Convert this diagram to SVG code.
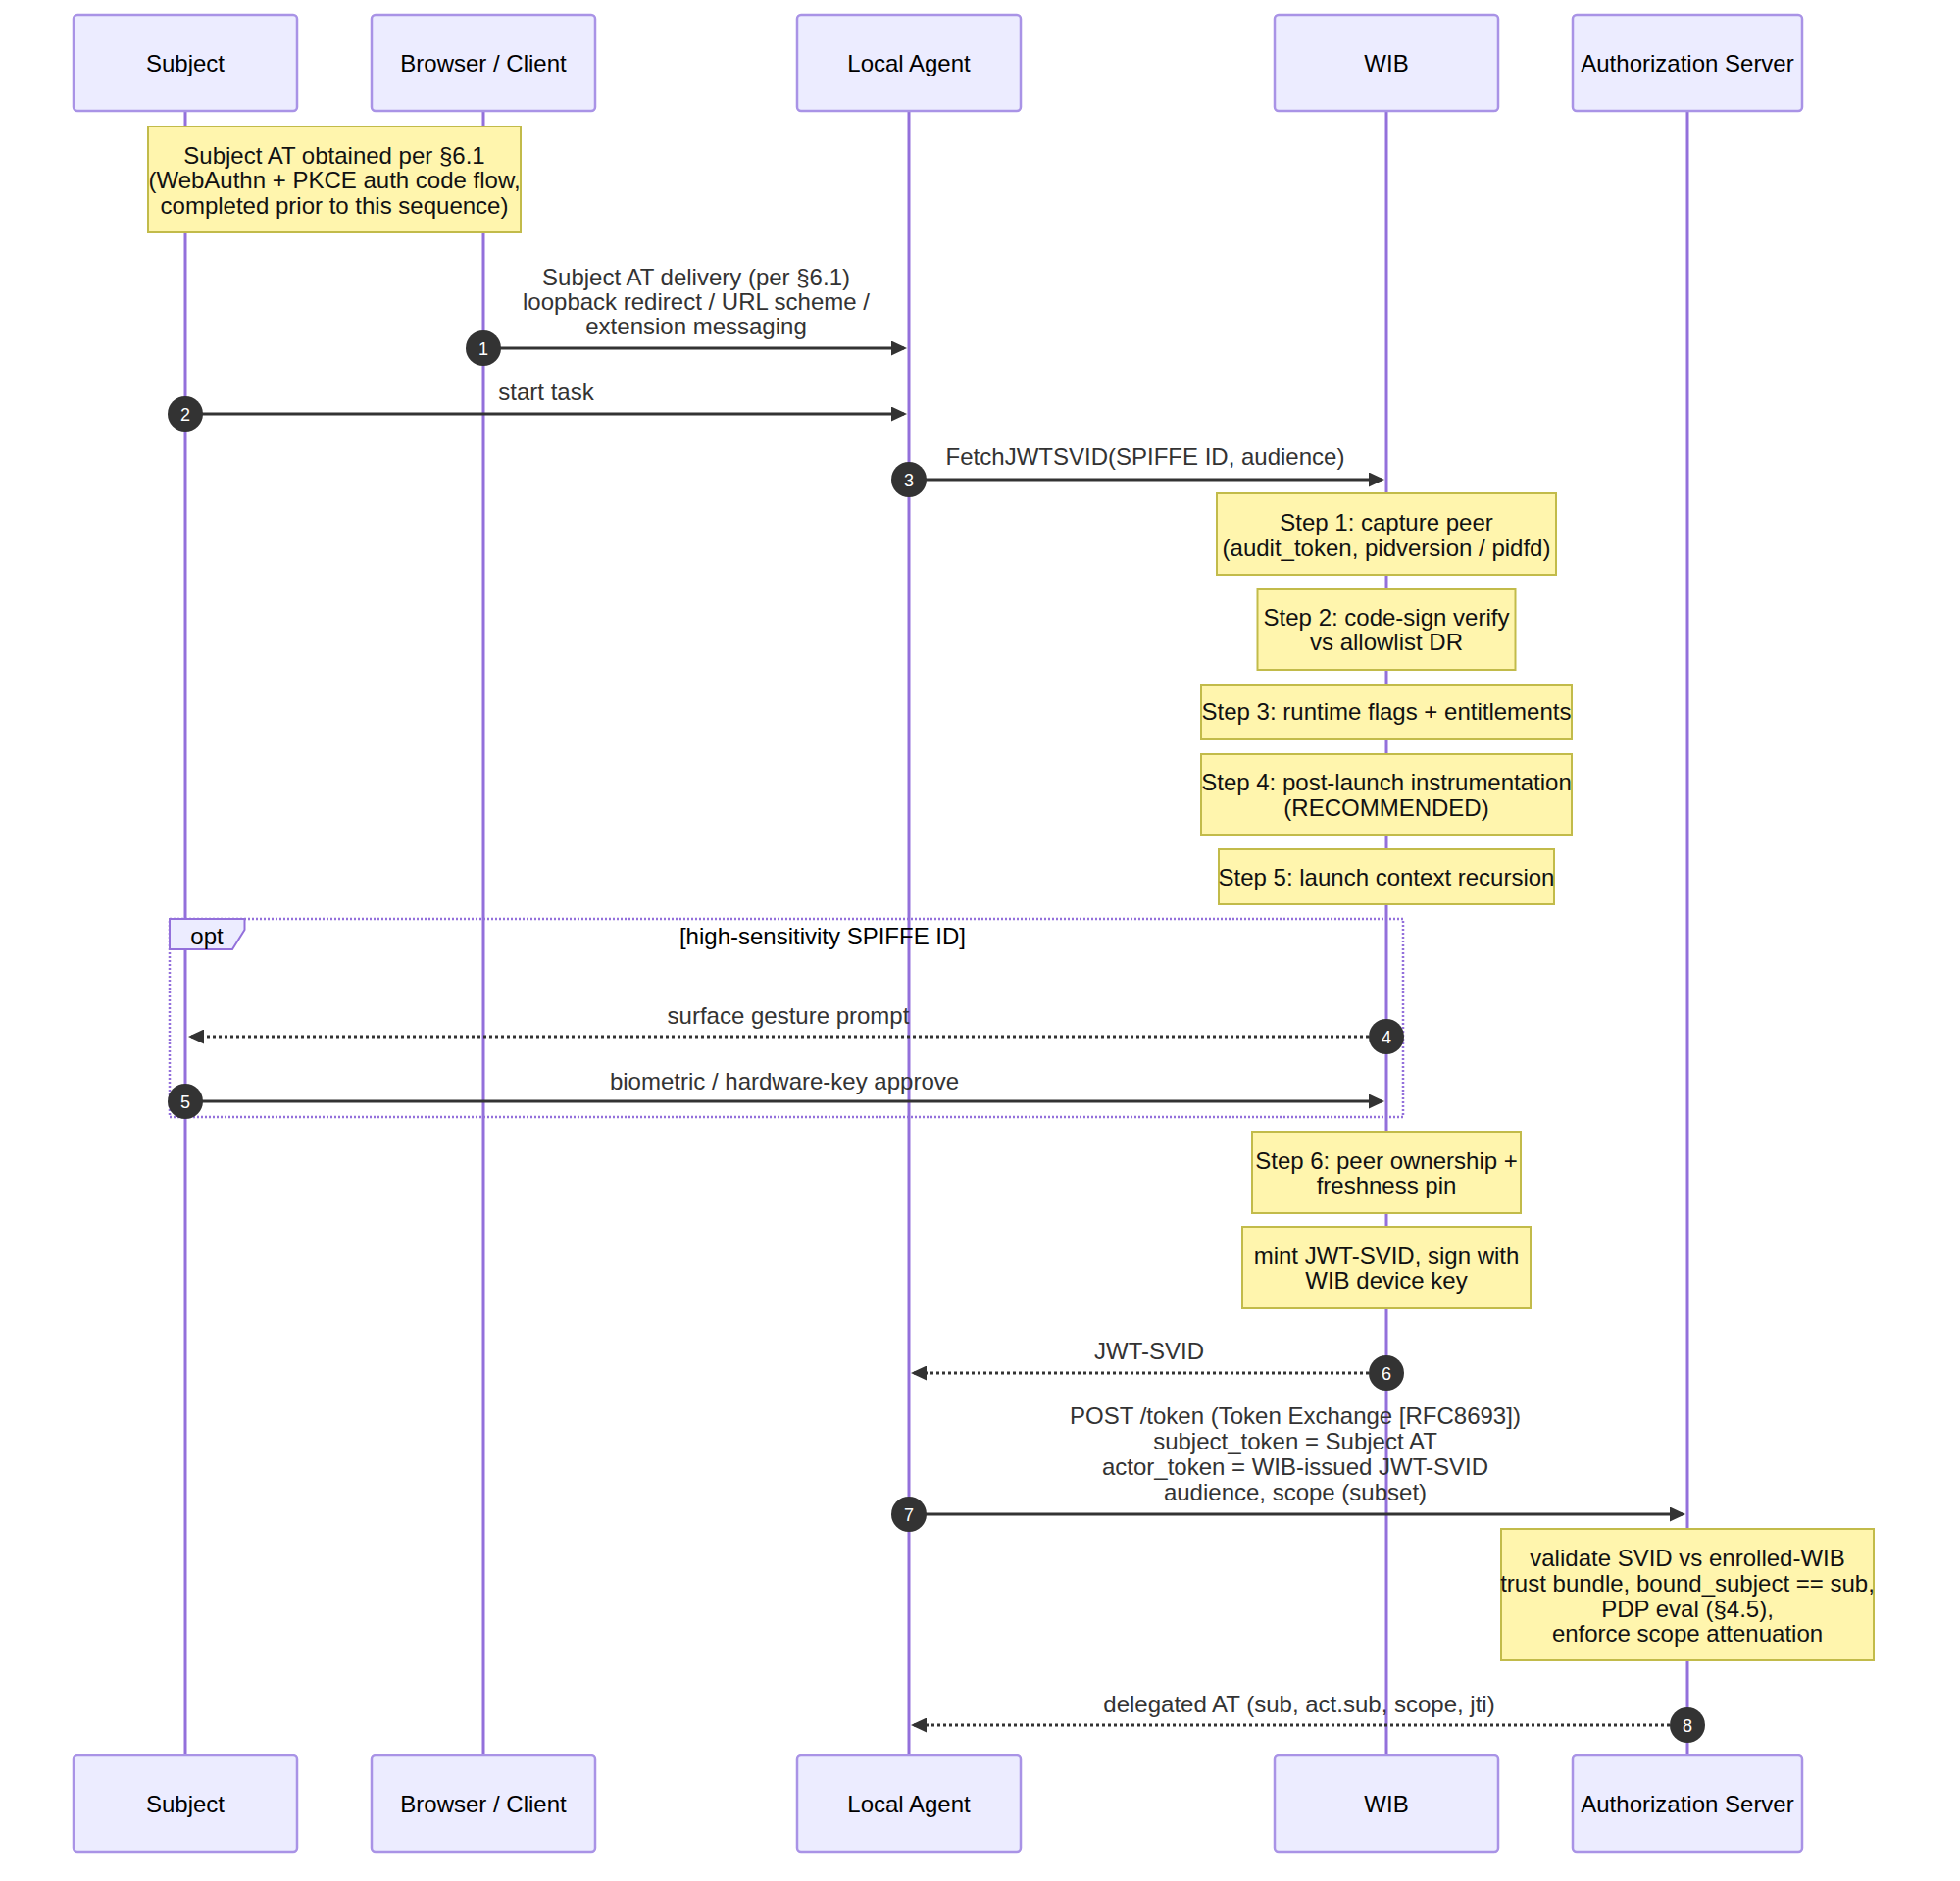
<svg xmlns="http://www.w3.org/2000/svg" width="1999" height="1918" viewBox="0 0 1999 1918">
<defs>
<style>
text{font-family:"Liberation Sans",Arial,Helvetica,sans-serif;font-size:24px;text-anchor:middle}
.actor rect{fill:#ECECFF;stroke:#a993e6;stroke-width:2.5}
.actor text{fill:#000}
.life{stroke:#9370DB;stroke-width:3}
.note rect{fill:#fff5ad;stroke:#c2bb4a;stroke-width:2}
.note text{fill:#111}
.msg{stroke:#333;stroke-width:3;fill:none}
.dot{stroke-dasharray:3 3}
.mlabel{fill:#333}
.seq circle{fill:#333}
.seq text{fill:#fff;font-size:18px}
.loop{fill:none;stroke:#9370DB;stroke-width:2.5;stroke-dasharray:2 2}
</style>
<marker id="arrow" markerUnits="userSpaceOnUse" viewBox="0 0 16 15" markerWidth="16" markerHeight="15" refX="13" refY="7.5" orient="auto">
<path d="M0,0 L16,7.5 L0,15 z" fill="#333"/>
</marker>
</defs>
<rect width="1999" height="1918" fill="#fff"/>

<g id="lifelines">
<line class="life" x1="189" y1="113" x2="189" y2="1790"/>
<line class="life" x1="493" y1="113" x2="493" y2="1790"/>
<line class="life" x1="927" y1="113" x2="927" y2="1790"/>
<line class="life" x1="1414" y1="113" x2="1414" y2="1790"/>
<line class="life" x1="1721" y1="113" x2="1721" y2="1790"/>
</g>

<g id="actor-subject" class="actor">
<rect x="75" y="15" width="228" height="98" rx="4"/><text x="189" y="72.5">Subject</text>
<rect x="75" y="1790" width="228" height="98" rx="4"/><text x="189" y="1847.5">Subject</text>
</g>
<g id="actor-browser" class="actor">
<rect x="379" y="15" width="228" height="98" rx="4"/><text x="493" y="72.5">Browser / Client</text>
<rect x="379" y="1790" width="228" height="98" rx="4"/><text x="493" y="1847.5">Browser / Client</text>
</g>
<g id="actor-agent" class="actor">
<rect x="813" y="15" width="228" height="98" rx="4"/><text x="927" y="72.5">Local Agent</text>
<rect x="813" y="1790" width="228" height="98" rx="4"/><text x="927" y="1847.5">Local Agent</text>
</g>
<g id="actor-wib" class="actor">
<rect x="1300" y="15" width="228" height="98" rx="4"/><text x="1414" y="72.5">WIB</text>
<rect x="1300" y="1790" width="228" height="98" rx="4"/><text x="1414" y="1847.5">WIB</text>
</g>
<g id="actor-as" class="actor">
<rect x="1604" y="15" width="234" height="98" rx="4"/><text x="1721" y="72.5">Authorization Server</text>
<rect x="1604" y="1790" width="234" height="98" rx="4"/><text x="1721" y="1847.5">Authorization Server</text>
</g>

<g id="note-subject-at" class="note">
<rect x="151" y="129" width="380" height="108"/>
<text x="341" y="166.5">Subject AT obtained per §6.1</text>
<text x="341" y="192">(WebAuthn + PKCE auth code flow,</text>
<text x="341" y="217.5">completed prior to this sequence)</text>
</g>
<g id="note-step1" class="note">
<rect x="1241" y="503" width="346" height="83"/>
<text x="1414" y="541">Step 1: capture peer</text>
<text x="1414" y="567">(audit_token, pidversion / pidfd)</text>
</g>
<g id="note-step2" class="note">
<rect x="1282.5" y="601" width="263" height="82"/>
<text x="1414" y="637.5">Step 2: code-sign verify</text>
<text x="1414" y="663">vs allowlist DR</text>
</g>
<g id="note-step3" class="note">
<rect x="1225" y="698" width="378" height="56"/>
<text x="1414" y="734">Step 3: runtime flags + entitlements</text>
</g>
<g id="note-step4" class="note">
<rect x="1225" y="769" width="378" height="82"/>
<text x="1414" y="806">Step 4: post-launch instrumentation</text>
<text x="1414" y="831.5">(RECOMMENDED)</text>
</g>
<g id="note-step5" class="note">
<rect x="1243" y="866" width="342" height="56"/>
<text x="1414" y="902.5">Step 5: launch context recursion</text>
</g>
<g id="note-step6" class="note">
<rect x="1277" y="1154" width="274" height="83"/>
<text x="1414" y="1191.5">Step 6: peer ownership +</text>
<text x="1414" y="1217">freshness pin</text>
</g>
<g id="note-mint" class="note">
<rect x="1267" y="1251" width="294" height="83"/>
<text x="1414" y="1289">mint JWT-SVID, sign with</text>
<text x="1414" y="1314">WIB device key</text>
</g>
<g id="note-as" class="note">
<rect x="1531" y="1559" width="380" height="134"/>
<text x="1721" y="1597">validate SVID vs enrolled-WIB</text>
<text x="1721" y="1622.5">trust bundle, bound_subject == sub,</text>
<text x="1721" y="1648.5">PDP eval (§4.5),</text>
<text x="1721" y="1674">enforce scope attenuation</text>
</g>

<g id="opt-block">
<rect class="loop" x="173" y="937" width="1258" height="202"/>
<polygon points="173,937 249.5,937 249.5,948 237,968 173,968" fill="#ECECFF" stroke="#9370DB" stroke-width="2"/>
<text x="211" y="962.5" fill="#000">opt</text>
<text x="839" y="963" fill="#000">[high-sensitivity SPIFFE ID]</text>
</g>

<g id="connectors">
<line class="msg" x1="493" y1="355" x2="922" y2="355" marker-end="url(#arrow)"/>
<text class="mlabel" x="710" y="291">Subject AT delivery (per §6.1)</text>
<text class="mlabel" x="710" y="316">loopback redirect / URL scheme /</text>
<text class="mlabel" x="710" y="341">extension messaging</text>

<line class="msg" x1="189" y1="422" x2="922" y2="422" marker-end="url(#arrow)"/>
<text class="mlabel" x="557" y="407.5">start task</text>

<line class="msg" x1="927" y1="489" x2="1409" y2="489" marker-end="url(#arrow)"/>
<text class="mlabel" x="1168" y="474">FetchJWTSVID(SPIFFE ID, audience)</text>

<line class="msg dot" x1="1414" y1="1057" x2="195" y2="1057" marker-end="url(#arrow)"/>
<text class="mlabel" x="804" y="1043.5">surface gesture prompt</text>

<line class="msg" x1="189" y1="1123" x2="1409" y2="1123" marker-end="url(#arrow)"/>
<text class="mlabel" x="800" y="1110.5">biometric / hardware-key approve</text>

<line class="msg dot" x1="1414" y1="1400" x2="932" y2="1400" marker-end="url(#arrow)"/>
<text class="mlabel" x="1172" y="1385.5">JWT-SVID</text>

<line class="msg" x1="927" y1="1544" x2="1716" y2="1544" marker-end="url(#arrow)"/>
<text class="mlabel" x="1321" y="1452">POST /token (Token Exchange [RFC8693])</text>
<text class="mlabel" x="1321" y="1478">subject_token = Subject AT</text>
<text class="mlabel" x="1321" y="1504">actor_token = WIB-issued JWT-SVID</text>
<text class="mlabel" x="1321" y="1530">audience, scope (subset)</text>

<line class="msg dot" x1="1721" y1="1759" x2="932" y2="1759" marker-end="url(#arrow)"/>
<text class="mlabel" x="1325" y="1746">delegated AT (sub, act.sub, scope, jti)</text>
</g>

<g id="sequence-numbers" class="seq">
<circle cx="493" cy="355" r="18"/><text x="493" y="361.5">1</text>
<circle cx="189" cy="422" r="18"/><text x="189" y="428.5">2</text>
<circle cx="927" cy="489" r="18"/><text x="927" y="495.5">3</text>
<circle cx="1414" cy="1057" r="18"/><text x="1414" y="1063.5">4</text>
<circle cx="189" cy="1123" r="18"/><text x="189" y="1129.5">5</text>
<circle cx="1414" cy="1400" r="18"/><text x="1414" y="1406.5">6</text>
<circle cx="927" cy="1544" r="18"/><text x="927" y="1550.5">7</text>
<circle cx="1721" cy="1759" r="18"/><text x="1721" y="1765.5">8</text>
</g>
</svg>
